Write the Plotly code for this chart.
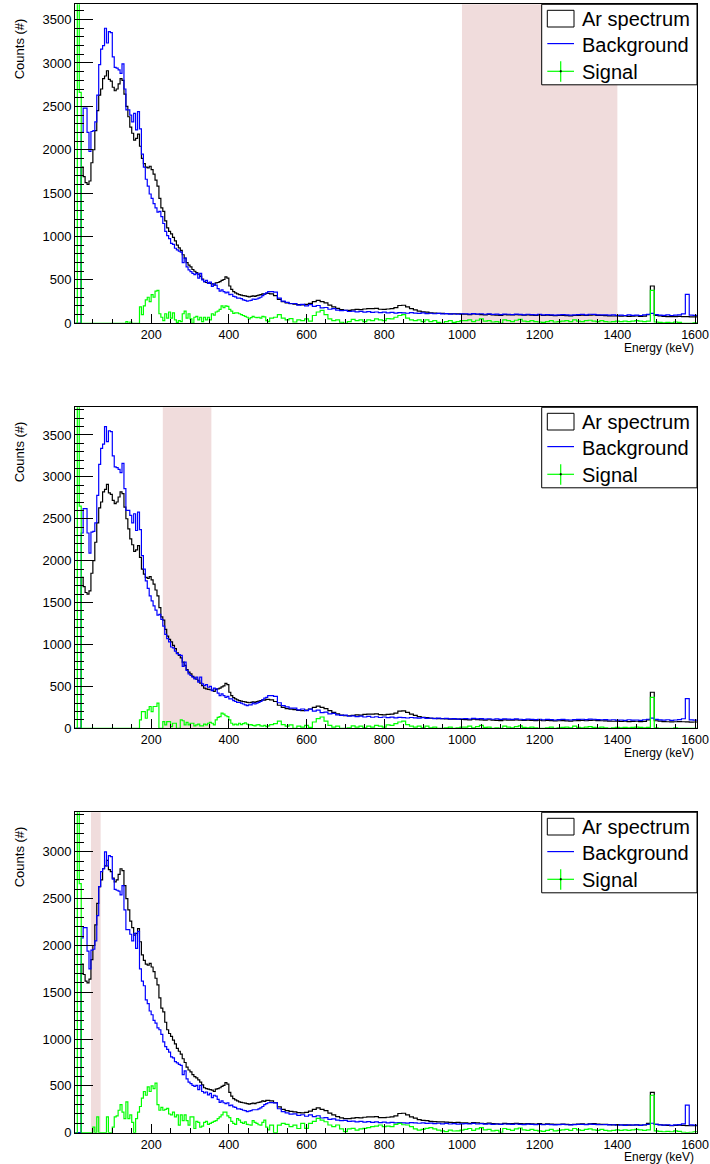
import plotly.graph_objects as go

# ---------------- data ----------------
# bins: 5 keV wide from 5 to 505 keV, then 10 keV wide from 505 to 1605 keV
low_edges = list(range(5, 505, 5))
tail_edges = list(range(505, 1605, 10))
last_edge = 1605

# Ar spectrum (same in the three panels)
ar_low = [0, 0, 0, 1800, 1690, 1620, 1600, 1640, 1850, 2000,
          2220, 2450, 2630, 2700, 2820, 2850, 2910, 2810, 2790, 2720,
          2680, 2700, 2760, 2820, 2800, 2640, 2500, 2380, 2260, 2190,
          2110, 2130, 2180, 2040, 1900, 1840, 1800, 1790, 1810, 1770,
          1720, 1650, 1580, 1440, 1330, 1290, 1180, 1100, 1060, 1030,
          990, 950, 900, 870, 840, 790, 750, 700, 670, 650,
          620, 600, 585, 565, 540, 510, 480, 470, 465, 460,
          455, 440, 465, 470, 480, 495, 505, 535, 520, 430,
          390, 365, 350, 340, 330, 325, 320, 315, 310, 305,
          310, 315, 310, 320, 325, 330, 340, 335, 345, 345]
ar_tail = [340, 320, 275, 250, 235, 228, 222, 215, 212, 218,
           230, 250, 265, 250, 235, 210, 190, 172, 158, 150,
           150, 155, 160, 158, 165, 170, 168, 172, 162, 160,
           165, 170, 180, 205, 208, 190, 170, 155, 140, 132,
           128, 120, 118, 115, 115, 112, 110, 108, 110, 105,
           104, 100, 108, 104, 100, 98, 102, 97, 95, 92,
           100, 98, 96, 100, 96, 94, 98, 95, 92, 96,
           90, 94, 92, 88, 90, 92, 88, 86, 90, 92,
           94, 90, 95, 98, 92, 90, 88, 86, 84, 86,
           82, 84, 80, 82, 84, 80, 82, 100, 430, 90,
           85, 80, 78, 76, 78, 80, 78, 76, 74, 75]

# Background, panel 1 (normalised 1000-1400 keV)
bg1_low = [0, 0, 0, 2200, 2480, 2480, 2200, 1980, 2210, 2220,
           2320, 2630, 2980, 3160, 3200, 3400, 3230, 3360, 3350, 3070,
           2950, 2940, 2920, 2880, 2990, 2700, 2460, 2460, 2400, 2320,
           2420, 2230, 2440, 2240, 1950, 1800, 1660, 1580, 1490, 1440,
           1380, 1330, 1280, 1290, 1230, 1150, 1060, 1010, 975, 920,
           910, 865, 845, 830, 820, 700, 750, 650, 615, 595,
           575, 560, 575, 520, 575, 500, 480, 495, 460, 475,
           425, 455, 440, 400, 370, 385, 365, 350, 360, 330,
           335, 310, 305, 290, 290, 285, 270, 265, 255, 260,
           265, 280, 275, 280, 290, 300, 320, 340, 350, 365]
bg1_tail = [365, 360, 290, 255, 240, 225, 228, 210, 218, 200,
            215, 195, 205, 178, 182, 162, 168, 152, 146, 148,
            136, 140, 132, 138, 128, 134, 125, 130, 122, 128,
            120, 126, 118, 124, 120, 116, 122, 118, 114, 120,
            112, 116, 110, 114, 108, 112, 106, 110, 104, 108,
            110, 105, 112, 106, 110, 104, 108, 102, 106, 100,
            106, 104, 100, 106, 102, 98, 104, 100, 98, 102,
            96, 100, 98, 94, 98, 100, 96, 94, 98, 100,
            102, 98, 104, 102, 98, 96, 98, 94, 96, 92,
            94, 90, 96, 92, 94, 90, 96, 102, 115, 100,
            95, 92, 96, 90, 94, 98, 108, 334, 95, 92]

# Background, panel 2 (normalised 230-355 keV)
bg2_low = [0, 0, 0, 2330, 2620, 2620, 2330, 2090, 2340, 2350,
           2450, 2780, 3150, 3340, 3390, 3600, 3420, 3550, 3540, 3250,
           3120, 3110, 3090, 3050, 3160, 2860, 2600, 2600, 2540, 2450,
           2560, 2360, 2580, 2370, 2060, 1900, 1760, 1670, 1580, 1520,
           1460, 1410, 1350, 1360, 1300, 1220, 1120, 1070, 1030, 970,
           960, 920, 890, 880, 870, 740, 790, 690, 650, 630,
           610, 590, 610, 550, 610, 530, 510, 520, 490, 500,
           450, 480, 470, 420, 390, 410, 390, 370, 380, 350,
           350, 330, 320, 310, 310, 300, 290, 280, 270, 280,
           280, 300, 290, 300, 310, 320, 340, 360, 370, 390]
bg2_tail = [390, 380, 305, 270, 255, 240, 240, 220, 230, 210,
            228, 206, 217, 188, 193, 171, 178, 161, 154, 157,
            144, 148, 140, 146, 135, 142, 132, 138, 129, 135,
            127, 133, 125, 131, 127, 123, 129, 125, 121, 127,
            118, 123, 116, 121, 114, 118, 112, 116, 110, 114,
            116, 111, 118, 112, 116, 110, 114, 108, 112, 106,
            112, 110, 106, 112, 108, 104, 110, 106, 104, 108,
            102, 106, 104, 99, 104, 106, 102, 99, 104, 106,
            108, 104, 110, 108, 104, 102, 104, 99, 102, 97,
            99, 95, 102, 97, 99, 95, 102, 108, 122, 106,
            101, 97, 102, 95, 99, 104, 114, 353, 101, 97]

# Background, panel 3 (normalised 45-70 keV)
bg3_low = [0, 0, 0, 2080, 2190, 2190, 1940, 1750, 1950, 1960,
           2050, 2320, 2630, 2790, 2820, 3000, 2850, 2960, 2950, 2710,
           2600, 2590, 2580, 2540, 2640, 2380, 2170, 2170, 2120, 2050,
           2130, 1970, 2150, 1750, 1620, 1570, 1420, 1380, 1300, 1260,
           1200, 1170, 1120, 1100, 1050, 970, 920, 890, 860, 810,
           800, 760, 745, 730, 720, 620, 660, 575, 540, 525,
           505, 495, 505, 460, 505, 440, 425, 435, 405, 420,
           375, 400, 390, 355, 325, 340, 320, 310, 320, 290,
           295, 275, 270, 255, 255, 250, 240, 235, 225, 230,
           235, 245, 245, 245, 255, 265, 280, 300, 310, 320]
bg3_tail = [322, 318, 256, 225, 212, 198, 201, 185, 192, 176,
            190, 172, 181, 157, 161, 143, 148, 134, 129, 131,
            120, 123, 116, 122, 113, 118, 110, 115, 108, 113,
            106, 111, 104, 109, 106, 102, 108, 104, 101, 106,
            99, 102, 97, 101, 95, 99, 93, 97, 92, 95,
            97, 93, 99, 93, 97, 92, 95, 90, 93, 88,
            93, 92, 88, 93, 90, 86, 92, 88, 86, 90,
            85, 88, 86, 83, 86, 88, 85, 83, 86, 88,
            90, 86, 92, 90, 86, 85, 86, 83, 85, 81,
            83, 79, 85, 81, 83, 79, 85, 90, 101, 88,
            84, 81, 85, 79, 83, 86, 95, 295, 84, 81]

# Signal, panels 1-3
sig1_low = [0, 9000, 2660, 0, 0, 0, 0, 0, 0, 0,
            0, 0, 0, 0, 0, 0, 0, 0, 0, 0,
            0, 0, 0, 0, 0, 0, 20, 0, 15, 0,
            0, 0, 0, 190, 100, 200, 270, 300, 250, 330,
            300, 370, 380, 110, 70, 30, 110, 60, 130, 60,
            120, 40, 10, 30, 20, 110, 140, 60, 110, 50,
            0, 70, 80, 40, 70, 20, 70, 40, 70, 40,
            110, 95, 130, 140, 160, 200, 180, 200, 195, 160,
            140, 115, 120, 120, 110, 100, 90, 80, 70, 50,
            65, 80, 70, 65, 70, 60, 80, 75, 30, 20]
sig1_tail = [60, 70, 100, 60, 40, 55, 15, 40, 30, 50,
             25, 90, 130, 150, 100, 50, 30, 40, 12, 0,
             20, 45, 30, 40, 20, 40, 30, 50, 40, 30,
             55, 50, 70, 90, 100, 60, 40, 30, 40, 20,
             40, 20, 30, 10, 0, 20, 30, 10, 20, 30,
             30, 40, 20, 35, 50, 25, 30, 15, 20, 0,
             40, 30, 20, 35, 45, 25, 20, 30, 20, 15,
             10, 20, 30, 15, 20, 25, 30, 20, 40, 25,
             20, 30, 35, 25, 20, 30, 20, 15, 20, 25,
             20, 25, 20, 25, 30, 25, 20, 25, 380, 15,
             10, 5, 10, 5, 15, 10, 0, 0, 0, 5]

sig2_low = [0, 9000, 2650, 0, 0, 0, 0, 0, 0, 0,
            0, 0, 0, 0, 0, 0, 0, 0, 0, 0,
            0, 0, 0, 0, 0, 0, 0, 0, 0, 0,
            0, 0, 0, 100, 200, 200, 120, 220, 260, 200,
            260, 260, 300, 0, 0, 80, 40, 80, 80, 20,
            60, 60, 0, 0, 100, 90, 40, 70, 40, 60,
            60, 30, 40, 50, 30, 30, 50, 40, 60, 70,
            60, 40, 100, 130, 140, 180, 170, 150, 140, 100,
            60, 40, 50, 40, 60, 45, 55, 65, 50, 40,
            45, 35, 30, 40, 45, 30, 25, 35, 20, 30]
sig2_tail = [45, 55, 85, 45, 25, 40, 0, 25, 15, 35,
             10, 75, 115, 135, 85, 35, 15, 25, 0, 0,
             5, 30, 15, 25, 5, 25, 15, 35, 25, 15,
             40, 35, 55, 75, 85, 45, 25, 15, 25, 5,
             25, 5, 15, 0, 0, 5, 15, 0, 5, 15,
             15, 25, 5, 20, 35, 10, 15, 0, 5, 0,
             25, 15, 5, 20, 30, 10, 5, 15, 5, 0,
             0, 5, 15, 0, 5, 10, 15, 5, 25, 10,
             5, 15, 20, 10, 5, 15, 5, 0, 5, 10,
             5, 10, 5, 10, 15, 10, 5, 10, 370, 5,
             0, 0, 0, 0, 5, 0, 0, 0, 0, 0]

sig3_low = [0, 9000, 2660, 0, 0, 0, 0, 0, 0, 60,
            0, 170, 0, 0, 0, 0, 170, 0, 0, 60,
            170, 180, 240, 300, 220, 150, 330, 150, 190, 110,
            0, 150, 220, 280, 370, 440, 400, 490, 440, 500,
            470, 530, 300, 240, 270, 240, 250, 260, 200, 190,
            220, 170, 190, 80, 190, 130, 190, 130, 80, 170,
            170, 45, 120, 110, 60, 70, 110, 120, 90, 100,
            110, 120, 130, 150, 170, 190, 220, 220, 180, 160,
            120, 100, 90, 150, 135, 110, 100, 115, 90, 85,
            80, 130, 110, 100, 85, 80, 110, 135, 60, 30]
sig3_tail = [80, 0, 80, 100, 90, 65, 80, 45, 100, 46,
             100, 120, 153, 135, 117, 82, 64, 82, 40, 11,
             40, 46, 28, 40, 46, 55, 64, 70, 82, 64,
             70, 64, 90, 100, 85, 82, 64, 40, 28, 35,
             46, 55, 40, 28, 20, 11, 28, 18, 20, 28,
             35, 45, 25, 40, 55, 30, 35, 20, 25, 5,
             45, 35, 25, 40, 50, 30, 25, 35, 25, 20,
             15, 25, 35, 20, 25, 30, 35, 25, 45, 30,
             25, 35, 40, 30, 25, 35, 25, 20, 25, 30,
             25, 30, 25, 30, 35, 30, 25, 30, 400, 20,
             15, 10, 15, 10, 20, 15, 5, 0, 5, 10]

# fit windows (shaded bands), keV
bands = [(1000, 1400), (230, 355), (45, 70)]
# y axis maxima of the three pads
y_max = [3676, 3830, 3423]

legend_labels = ["Ar spectrum", "Background", "Signal"]

# ---------------- figure ----------------
W, H = 710, 1164
X_LEFT, X_RIGHT = 75, 697
pads = [(4.3, 323.3), (407.3, 728.3), (812.3, 1132.7)]
FONT = "Liberation Sans, Arial, sans-serif"

edges = low_edges + tail_edges + [last_edge]


def hist_y(low, tail):
    v = list(low) + list(tail)
    return v + [v[-1]]


def fx(x):
    return x / W


def fy(y):
    return 1 - y / H


series = [
    (bg1_low, bg1_tail, sig1_low, sig1_tail),
    (bg2_low, bg2_tail, sig2_low, sig2_tail),
    (bg3_low, bg3_tail, sig3_low, sig3_tail),
]

fig = go.Figure()
shapes = []
annotations = []
layout_axes = {}

for i, ((top, bottom), (bl, bt, sl, st), band, ymax) in enumerate(
        zip(pads, series, bands, y_max)):
    n = i + 1
    xa = "x" if n == 1 else f"x{n}"
    ya = "y" if n == 1 else f"y{n}"
    xkey = "xaxis" if n == 1 else f"xaxis{n}"
    ykey = "yaxis" if n == 1 else f"yaxis{n}"

    for vals_low, vals_tail, color, name in [
        (ar_low, ar_tail, "#000000", legend_labels[0]),
        (bl, bt, "#0000ff", legend_labels[1]),
        (sl, st, "#00ff00", legend_labels[2]),
    ]:
        fig.add_trace(go.Scatter(
            x=edges, y=hist_y(vals_low, vals_tail), mode="lines",
            line=dict(color=color, width=1.2, shape="hv"),
            name=name, showlegend=False, xaxis=xa, yaxis=ya,
            hoverinfo="skip"))

    layout_axes[xkey] = dict(
        domain=[fx(X_LEFT), fx(X_RIGHT)], anchor=ya, range=[4, 1605],
        automargin=False,
        showgrid=False, zeroline=False, showline=True, linecolor="black",
        linewidth=1, mirror=True, ticks="inside", ticklen=9, tickwidth=1,
        tickcolor="black", tick0=0, dtick=200, tickformat="d",
        tickfont=dict(family=FONT, size=12.5, color="black"),
        minor=dict(dtick=50, ticklen=4.5, ticks="inside", tickcolor="black",
                   tickwidth=1, showgrid=False),
    )
    layout_axes[ykey] = dict(
        domain=[fy(bottom), fy(top)], anchor=xa, range=[0, ymax],
        automargin=False,
        showgrid=False, zeroline=False, showline=True, linecolor="black",
        linewidth=1, mirror=True, ticks="inside", ticklen=18, tickwidth=1,
        tickcolor="black", tick0=0, dtick=500, tickformat="d",
        tickfont=dict(family=FONT, size=13, color="black"),
        minor=dict(dtick=100, ticklen=9, ticks="inside", tickcolor="black",
                   tickwidth=1, showgrid=False),
    )

    # shaded band
    shapes.append(dict(type="rect", xref=xa, yref=f"{ya} domain",
                       x0=band[0], x1=band[1], y0=0, y1=1,
                       fillcolor="rgb(240,220,220)", line=dict(width=0),
                       layer="below"))

    # axis titles
    annotations.append(dict(text="Counts (#)", xref="paper", yref="paper",
                            x=fx(19), y=fy(top + 12.5), xanchor="center",
                            yanchor="top", textangle=-90, showarrow=False,
                            font=dict(family=FONT, size=13, color="black")))
    annotations.append(dict(text="Energy (keV)", xref="paper", yref="paper",
                            x=fx(696), y=fy(bottom + 24.5), xanchor="right",
                            yanchor="middle", showarrow=False,
                            font=dict(family=FONT, size=12, color="black")))

    # legend box
    lx0, lx1 = 541.7, X_RIGHT
    shapes.append(dict(type="rect", xref="paper", yref="paper",
                       x0=fx(lx0), x1=fx(lx1), y0=fy(top + 80.5), y1=fy(top),
                       fillcolor="white", line=dict(color="black", width=1),
                       layer="above"))
    # symbols
    sx0, sx1 = 547.3, 574.0
    shapes.append(dict(type="rect", xref="paper", yref="paper",
                       x0=fx(sx0), x1=fx(sx1), y0=fy(top + 22.7),
                       y1=fy(top + 6), line=dict(color="black", width=1),
                       fillcolor="rgba(0,0,0,0)", layer="above"))
    shapes.append(dict(type="line", xref="paper", yref="paper",
                       x0=fx(sx0), x1=fx(sx1), y0=fy(top + 39.3),
                       y1=fy(top + 39.3), line=dict(color="#0000ff", width=1.2),
                       layer="above"))
    shapes.append(dict(type="line", xref="paper", yref="paper",
                       x0=fx(sx0), x1=fx(sx1), y0=fy(top + 67),
                       y1=fy(top + 67), line=dict(color="#00ff00", width=1.2),
                       layer="above"))
    shapes.append(dict(type="line", xref="paper", yref="paper",
                       x0=fx(560.7), x1=fx(560.7), y0=fy(top + 77.5),
                       y1=fy(top + 57), line=dict(color="#00ff00", width=1.2),
                       layer="above"))
    shapes.append(dict(type="rect", xref="paper", yref="paper",
                       x0=fx(560.0), x1=fx(561.4), y0=fy(top + 67.7),
                       y1=fy(top + 66.3), line=dict(color="black", width=0.5),
                       fillcolor="black", layer="above"))
    for k, (lab, dy) in enumerate(zip(legend_labels, [14.5, 40.5, 67.5])):
        annotations.append(dict(text=lab, xref="paper", yref="paper",
                                x=fx(579.5), y=fy(top + dy), xanchor="left",
                                yanchor="middle", showarrow=False,
                                font=dict(family=FONT, size=20, color="black")))

fig.update_layout(
    width=W, height=H, autosize=False, margin=dict(l=0, r=0, t=0, b=0,
                                                   autoexpand=False),
    paper_bgcolor="white", plot_bgcolor="white", showlegend=False,
    shapes=shapes, annotations=annotations, **layout_axes)

fig.write_html("out.html", config={"responsive": False},
               default_width=f"{W}px", default_height=f"{H}px")
